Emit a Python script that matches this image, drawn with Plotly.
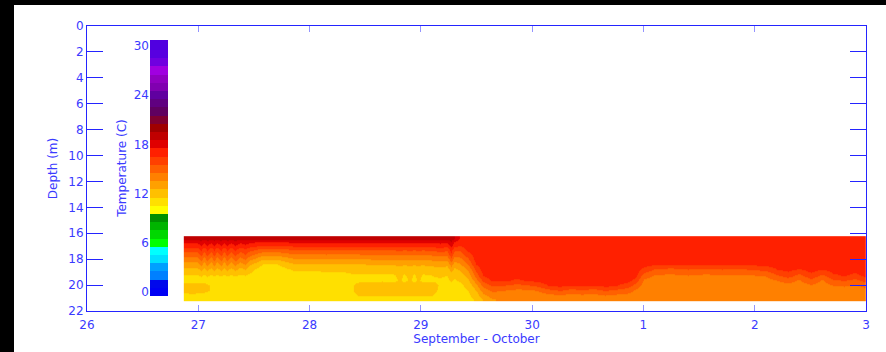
import numpy as np
import plotly.graph_objects as go

# ---------------- data ----------------
depth = [16.35, 16.6, 16.9, 17.2, 17.6, 18.0, 18.4, 18.8, 19.2, 19.6, 20.0, 20.4, 20.8, 21.1]

# days since 26 September 00:00, with temperature profile (one value per depth)
days = [0.89, 0.93, 0.99, 1.02, 1.05, 1.08, 1.11, 1.14, 1.17, 1.20, 1.23, 1.26, 1.29, 1.33,
        1.37, 1.42, 1.46, 1.52, 1.58, 1.70, 1.78, 1.85, 2.00, 2.15, 2.30, 2.38, 2.45, 2.55,
        2.65, 2.75, 2.81, 2.85, 2.90, 2.94, 2.97, 3.02, 3.10, 3.17, 3.23, 3.27, 3.30, 3.35,
        3.42, 3.49, 3.56, 3.64, 3.75, 3.85, 3.95, 4.05, 4.15, 4.25, 4.35, 4.45, 4.55, 4.65,
        4.75, 4.85, 4.92, 5.00, 5.10, 5.25, 5.40, 5.55, 5.70, 5.85, 6.00, 6.10, 6.20, 6.30,
        6.40, 6.50, 6.60, 6.70, 6.80, 6.90, 7.00]

temp_profiles = [
    [19.0, 17.8, 17.0, 16.0, 15.0, 14.0, 13.0, 12.2, 11.4, 11.2, 11.8, 11.8, 11.2, 11.0],  # 0.89
    [19.0, 17.8, 17.0, 16.0, 15.0, 14.0, 13.0, 12.2, 11.4, 11.2, 11.9, 12.0, 11.3, 11.0],  # 0.93
    [19.0, 17.8, 17.0, 16.0, 15.0, 14.0, 13.0, 12.2, 11.4, 11.2, 11.9, 11.9, 11.2, 11.0],  # 0.99
    [19.3, 18.3, 17.5, 16.7, 15.8, 14.9, 13.8, 12.7, 11.6, 11.2, 11.8, 11.8, 11.2, 11.0],  # 1.02
    [19.0, 17.8, 17.0, 16.0, 15.0, 14.0, 13.0, 12.2, 11.4, 11.1, 11.8, 11.8, 11.1, 11.0],  # 1.05
    [19.3, 18.3, 17.5, 16.7, 15.8, 14.9, 13.8, 12.7, 11.6, 11.1, 11.7, 11.7, 11.0, 11.0],  # 1.08
    [19.0, 17.8, 17.0, 16.0, 15.0, 14.0, 13.0, 12.2, 11.4, 11.0, 11.3, 11.3, 11.0, 11.0],  # 1.11
    [19.3, 18.3, 17.5, 16.7, 15.8, 14.9, 13.8, 12.7, 11.6, 11.0, 11.0, 11.0, 11.0, 11.0],  # 1.14
    [19.0, 17.8, 17.0, 16.0, 15.0, 14.0, 13.0, 12.2, 11.4, 11.0, 11.0, 11.0, 11.0, 11.0],  # 1.17
    [19.3, 18.3, 17.5, 16.7, 15.8, 14.9, 13.8, 12.7, 11.6, 11.0, 11.0, 11.0, 11.0, 11.0],  # 1.20
    [19.0, 17.8, 17.0, 16.0, 15.0, 14.0, 13.0, 12.2, 11.4, 11.0, 11.0, 11.0, 11.0, 11.0],  # 1.23
    [19.3, 18.3, 17.5, 16.7, 15.8, 14.9, 13.8, 12.7, 11.6, 11.0, 11.0, 11.0, 11.0, 11.0],  # 1.26
    [19.0, 17.8, 17.0, 16.0, 15.0, 14.0, 13.0, 12.2, 11.4, 11.0, 11.0, 11.0, 11.0, 11.0],  # 1.29
    [19.3, 18.3, 17.5, 16.7, 15.8, 14.9, 13.8, 12.7, 11.6, 11.0, 11.0, 11.0, 11.0, 11.0],  # 1.33
    [19.0, 17.8, 17.0, 16.0, 15.0, 14.0, 13.0, 12.2, 11.4, 11.0, 11.0, 11.0, 11.0, 11.0],  # 1.37
    [19.2, 18.1, 17.3, 16.4, 15.5, 14.6, 13.5, 12.5, 11.5, 11.0, 11.0, 11.0, 11.0, 11.0],  # 1.42
    [19.0, 17.8, 17.0, 15.9, 14.8, 13.7, 12.6, 11.9, 11.2, 11.0, 11.0, 11.0, 11.0, 11.0],  # 1.46
    [19.0, 17.7, 16.8, 15.6, 14.4, 13.2, 12.1, 11.4, 11.1, 11.0, 11.0, 11.0, 11.0, 11.0],  # 1.52
    [19.0, 17.6, 16.6, 15.2, 13.8, 12.5, 11.4, 11.0, 11.0, 11.0, 11.0, 11.0, 11.0, 11.0],  # 1.58
    [19.0, 17.6, 16.6, 15.2, 13.8, 12.5, 11.4, 11.0, 11.0, 11.0, 11.0, 11.0, 11.0, 11.0],  # 1.70
    [19.0, 17.7, 16.7, 15.4, 14.1, 12.9, 11.9, 11.3, 11.0, 11.0, 11.0, 11.0, 11.0, 11.0],  # 1.78
    [19.0, 17.8, 16.8, 15.6, 14.4, 13.3, 12.3, 11.6, 11.1, 11.0, 11.0, 11.0, 11.0, 11.0],  # 1.85
    [19.0, 17.8, 16.9, 15.7, 14.4, 13.3, 12.3, 11.6, 11.1, 11.0, 11.0, 11.0, 11.0, 11.0],  # 2.00
    [19.0, 17.8, 16.8, 15.6, 14.5, 13.4, 12.4, 11.7, 11.2, 11.0, 11.0, 11.0, 11.0, 11.0],  # 2.15
    [19.0, 17.8, 16.8, 15.6, 14.4, 13.3, 12.3, 11.7, 11.2, 11.0, 11.0, 11.0, 11.0, 11.0],  # 2.30
    [19.0, 17.8, 16.8, 15.6, 14.4, 13.3, 12.3, 11.8, 11.4, 11.3, 11.4, 11.4, 11.2, 11.0],  # 2.38
    [19.0, 17.8, 16.9, 15.7, 14.5, 13.4, 12.4, 11.9, 11.4, 11.3, 11.9, 12.0, 11.6, 11.0],  # 2.45
    [19.0, 17.8, 16.9, 15.7, 14.5, 13.5, 12.6, 11.9, 11.4, 11.3, 11.9, 12.0, 11.6, 11.0],  # 2.55
    [19.0, 17.8, 16.9, 15.7, 14.5, 13.5, 12.6, 11.9, 11.4, 11.4, 11.9, 12.0, 11.6, 11.0],  # 2.65
    [19.0, 17.8, 16.9, 15.7, 14.5, 13.5, 12.6, 11.9, 11.4, 11.3, 11.9, 12.0, 11.6, 11.0],  # 2.75
    [19.0, 17.8, 16.9, 15.8, 14.6, 13.6, 12.7, 12.0, 11.7, 11.6, 11.9, 12.0, 11.6, 11.0],  # 2.81
    [19.0, 17.8, 16.9, 15.7, 14.5, 13.5, 12.6, 11.9, 11.4, 11.3, 11.9, 12.0, 11.6, 11.0],  # 2.85
    [19.0, 17.8, 16.9, 15.8, 14.6, 13.6, 12.7, 12.0, 11.7, 11.6, 11.9, 12.0, 11.6, 11.0],  # 2.90
    [19.0, 17.8, 16.9, 15.7, 14.5, 13.5, 12.6, 11.9, 11.4, 11.3, 11.9, 12.0, 11.6, 11.0],  # 2.94
    [19.0, 17.8, 16.9, 15.8, 14.6, 13.6, 12.7, 12.0, 11.7, 11.6, 11.9, 12.0, 11.6, 11.0],  # 2.97
    [19.0, 17.8, 16.9, 15.7, 14.5, 13.5, 12.6, 11.9, 11.4, 11.3, 11.9, 12.0, 11.6, 11.0],  # 3.02
    [19.0, 17.8, 17.0, 15.9, 14.7, 13.7, 12.8, 12.0, 11.5, 11.4, 11.8, 11.8, 11.5, 11.0],  # 3.10
    [19.0, 17.9, 17.1, 16.0, 14.9, 13.8, 12.9, 12.1, 11.6, 11.4, 11.4, 11.3, 11.1, 11.0],  # 3.17
    [19.0, 17.8, 17.0, 15.9, 14.8, 13.7, 12.8, 12.0, 11.5, 11.3, 11.2, 11.1, 11.0, 11.0],  # 3.23
    [19.3, 18.5, 17.9, 17.0, 16.2, 15.2, 14.0, 12.9, 12.0, 11.6, 11.3, 11.2, 11.0, 11.0],  # 3.27
    [18.6, 17.6, 16.9, 15.9, 14.9, 13.9, 13.0, 12.3, 11.7, 11.4, 11.2, 11.1, 11.0, 11.0],  # 3.30
    [17.4, 17.0, 16.6, 15.8, 15.0, 14.2, 13.4, 12.6, 12.0, 11.6, 11.3, 11.2, 11.1, 11.0],  # 3.35
    [17.2, 17.0, 17.0, 16.8, 16.1, 15.3, 14.5, 13.7, 12.9, 12.3, 11.8, 11.5, 11.3, 11.2],  # 3.42
    [17.2, 17.0, 17.0, 17.0, 17.0, 16.9, 16.5, 15.8, 15.0, 14.1, 13.2, 12.5, 12.0, 11.6],  # 3.49
    [17.2, 17.0, 17.0, 17.0, 17.0, 17.0, 17.0, 16.9, 16.6, 15.8, 14.8, 14.0, 13.2, 12.6],  # 3.56
    [17.2, 17.0, 17.0, 17.0, 17.0, 17.0, 17.0, 17.0, 17.0, 16.6, 15.6, 14.7, 14.0, 13.4],  # 3.64
    [17.2, 17.0, 17.0, 17.0, 17.0, 17.0, 17.0, 17.0, 17.0, 16.7, 15.5, 14.5, 14.0, 13.8],  # 3.75
    [17.2, 17.0, 17.0, 17.0, 17.0, 17.0, 17.0, 17.0, 16.9, 16.3, 15.2, 14.3, 13.9, 13.8],  # 3.85
    [17.2, 17.0, 17.0, 17.0, 17.0, 17.0, 17.0, 17.0, 17.0, 16.6, 15.4, 14.3, 13.9, 13.8],  # 3.95
    [17.2, 17.0, 17.0, 17.0, 17.0, 17.0, 17.0, 17.0, 17.0, 16.8, 15.8, 14.6, 14.0, 13.8],  # 4.05
    [17.2, 17.0, 17.0, 17.0, 17.0, 17.0, 17.0, 17.0, 17.0, 17.0, 16.6, 15.2, 14.2, 13.9],  # 4.15
    [17.2, 17.0, 17.0, 17.0, 17.0, 17.0, 17.0, 17.0, 17.0, 17.0, 16.8, 15.6, 14.4, 14.0],  # 4.25
    [17.2, 17.0, 17.0, 17.0, 17.0, 17.0, 17.0, 17.0, 17.0, 17.0, 16.5, 15.1, 14.2, 13.9],  # 4.35
    [17.2, 17.0, 17.0, 17.0, 17.0, 17.0, 17.0, 17.0, 17.0, 17.0, 16.7, 15.4, 14.3, 14.0],  # 4.45
    [17.2, 17.0, 17.0, 17.0, 17.0, 17.0, 17.0, 17.0, 17.0, 17.0, 16.5, 15.1, 14.2, 13.9],  # 4.55
    [17.2, 17.0, 17.0, 17.0, 17.0, 17.0, 17.0, 17.0, 17.0, 17.0, 16.8, 15.6, 14.5, 14.0],  # 4.65
    [17.2, 17.0, 17.0, 17.0, 17.0, 17.0, 17.0, 17.0, 17.0, 17.0, 16.6, 15.3, 14.3, 13.9],  # 4.75
    [17.2, 17.0, 17.0, 17.0, 17.0, 17.0, 17.0, 17.0, 17.0, 16.9, 16.0, 15.0, 14.2, 13.9],  # 4.85
    [17.2, 17.0, 17.0, 17.0, 17.0, 17.0, 17.0, 17.0, 16.9, 16.2, 15.2, 14.4, 14.0, 13.9],  # 4.92
    [17.2, 17.0, 17.0, 17.0, 17.0, 17.0, 16.9, 16.2, 15.0, 14.3, 14.0, 13.9, 13.8, 13.8],  # 5.00
    [17.2, 17.0, 17.0, 17.0, 17.0, 17.0, 16.6, 15.4, 14.4, 14.0, 13.9, 13.8, 13.8, 13.8],  # 5.10
    [17.2, 17.0, 17.0, 17.0, 17.0, 17.0, 16.5, 15.2, 14.3, 14.0, 13.9, 13.8, 13.8, 13.8],  # 5.25
    [17.2, 17.0, 17.0, 17.0, 17.0, 17.0, 16.7, 15.5, 14.5, 14.0, 13.9, 13.8, 13.8, 13.8],  # 5.40
    [17.2, 17.0, 17.0, 17.0, 17.0, 17.0, 16.6, 15.3, 14.3, 14.0, 13.9, 13.8, 13.8, 13.8],  # 5.55
    [17.2, 17.0, 17.0, 17.0, 17.0, 17.0, 16.7, 15.5, 14.4, 14.0, 13.9, 13.8, 13.8, 13.8],  # 5.70
    [17.2, 17.0, 17.0, 17.0, 17.0, 17.0, 16.6, 15.4, 14.4, 14.0, 13.9, 13.8, 13.8, 13.8],  # 5.85
    [17.2, 17.0, 17.0, 17.0, 17.0, 17.0, 16.7, 15.6, 14.5, 14.1, 13.9, 13.8, 13.8, 13.8],  # 6.00
    [17.2, 17.0, 17.0, 17.0, 17.0, 17.0, 16.8, 15.8, 14.6, 14.1, 13.9, 13.8, 13.8, 13.8],  # 6.10
    [17.2, 17.0, 17.0, 17.0, 17.0, 17.0, 17.0, 16.5, 15.4, 14.5, 14.1, 13.9, 13.8, 13.8],  # 6.20
    [17.2, 17.0, 17.0, 17.0, 17.0, 17.0, 17.0, 16.8, 16.0, 14.9, 14.2, 13.9, 13.8, 13.8],  # 6.30
    [17.2, 17.0, 17.0, 17.0, 17.0, 17.0, 17.0, 16.4, 15.2, 14.4, 14.0, 13.9, 13.8, 13.8],  # 6.40
    [17.2, 17.0, 17.0, 17.0, 17.0, 17.0, 17.0, 16.9, 16.2, 15.2, 14.4, 14.0, 13.9, 13.8],  # 6.50
    [17.2, 17.0, 17.0, 17.0, 17.0, 17.0, 17.0, 16.5, 15.3, 14.4, 14.0, 13.9, 13.8, 13.8],  # 6.60
    [17.2, 17.0, 17.0, 17.0, 17.0, 17.0, 17.0, 16.9, 16.3, 15.3, 14.5, 14.0, 13.9, 13.8],  # 6.70
    [17.2, 17.0, 17.0, 17.0, 17.0, 17.0, 17.0, 17.0, 16.6, 15.6, 14.6, 14.1, 13.9, 13.8],  # 6.80
    [17.2, 17.0, 17.0, 17.0, 17.0, 17.0, 17.0, 16.9, 16.2, 15.2, 14.4, 14.0, 13.9, 13.8],  # 6.90
    [17.2, 17.0, 17.0, 17.0, 17.0, 17.0, 17.0, 17.0, 16.8, 15.9, 14.8, 14.2, 13.9, 13.8],  # 7.00
]

# colour table: one colour per 1 degC level, 0 .. 30
level_values = list(range(31))
level_colors = [
    '#0000f4', '#0008ec', '#0080ff', '#00a0ff', '#00e0ff', '#00ffff',
    '#00ff00', '#00d800', '#00b400', '#009000',
    '#ffff00', '#ffe000', '#ffc000', '#ffa000', '#ff8000', '#ff6000',
    '#ff4000', '#ff2000', '#e00000', '#c00000', '#a00000',
    '#800030', '#600060', '#600080', '#6000a0', '#8000b0', '#9000c0',
    '#a000e0', '#7000e0', '#5800e0', '#5000e0',
]
colorbar_ticks = [0, 6, 12, 18, 24, 30]

x_tickvals = [0, 1, 2, 3, 4, 5, 6, 7]
x_ticktext = ['26', '27', '28', '29', '30', '1', '2', '3']

# ---------------- figure ----------------
n = len(level_values)
zmin, zmax = level_values[0] - 0.5, level_values[-1] + 0.5
cscale = []
for k, c in enumerate(level_colors):
    cscale.append([k / n, c])
    cscale.append([(k + 1) / n, c])

z = np.array(temp_profiles).T

blue_line = '#2424ff'
blue_text = '#3a3aff'
font_family = 'DejaVu Sans'

fig = go.Figure()
fig.add_trace(go.Heatmap(
    x=days, y=depth, z=z, zsmooth='best',
    colorscale=cscale, zmin=zmin, zmax=zmax,
    showscale=False, hoverinfo='skip',
))

# colour bar drawn as its own small heat map on its own axes
edges = [v - 0.5 for v in level_values] + [level_values[-1] + 0.73]
fig.add_trace(go.Heatmap(
    x=[0], y=edges, z=[[v] for v in level_values],
    colorscale=cscale, zmin=zmin, zmax=zmax, showscale=False,
    xaxis='x2', yaxis='y2', hoverinfo='skip',
))

axis_font = dict(family=font_family, size=12, color=blue_text)

W, H = 886, 352
L, R, T, B = 87, 20, 26, 41
pw, ph = W - L - R, H - T - B

fig.update_layout(
    width=W, height=H,
    margin=dict(l=L, r=R, t=T, b=B, autoexpand=False),
    paper_bgcolor='black', plot_bgcolor='white',
    font=axis_font,
    showlegend=False,
    xaxis=dict(
        range=[0, 7], tickvals=x_tickvals, ticktext=x_ticktext,
        showline=True, linecolor=blue_line, linewidth=1, mirror='ticks',
        ticks='inside', ticklen=6, tickwidth=1, tickcolor='rgba(60,60,255,0.55)',
        showgrid=False, zeroline=False, ticklabelstandoff=3, automargin=False,
        title=dict(text='September - October', standoff=2, font=axis_font),
        tickfont=axis_font,
    ),
    yaxis=dict(
        range=[22, 0], dtick=2, tick0=0,
        showline=True, linecolor=blue_line, linewidth=1, mirror='ticks',
        ticks='inside', ticklen=16, tickwidth=1, tickcolor=blue_line,
        showgrid=False, zeroline=False, automargin=False,
        title=dict(text='Depth (m)', standoff=8, font=axis_font),
        tickfont=axis_font,
    ),
    xaxis2=dict(
        domain=[(150 - L) / pw, (168 - L) / pw], anchor='y2',
        range=[-0.5, 0.5], visible=False, fixedrange=True, automargin=False,
    ),
    yaxis2=dict(
        domain=[(H - B - 296) / ph, (H - B - 40) / ph], anchor='x2',
        range=[edges[0], edges[-1]], tickvals=colorbar_ticks,
        ticks='', showline=False, showgrid=False, zeroline=False, automargin=False,
        title=dict(text='Temperature (C)', standoff=4, font=axis_font),
        tickfont=axis_font,
    ),
    shapes=[dict(type='rect', xref='paper', yref='paper',
                 x0=(14 - L) / pw, x1=1.06, y0=-0.25, y1=(H - B - 5) / ph,
                 fillcolor='white', line=dict(width=0), layer='below')],
)

fig.write_html(
    'out.html',
    config={'displayModeBar': False},
    post_script="document.body.style.margin='0';document.body.style.background='black';",
)
